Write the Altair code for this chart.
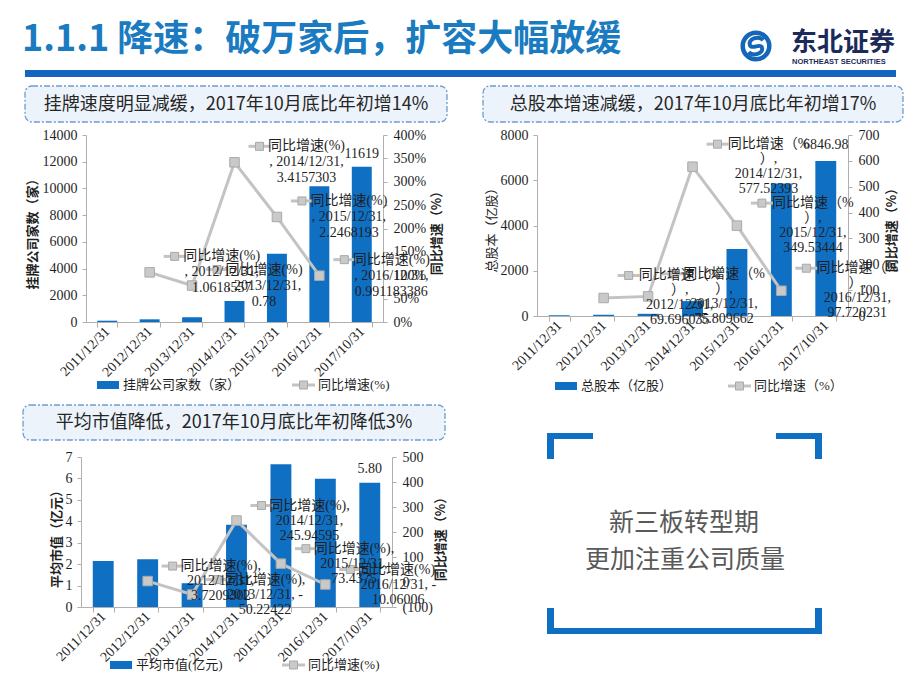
import altair as alt
import pandas as pd

# ------------------------------------------------------------------ data
dates = ["2011/12/31", "2012/12/31", "2013/12/31", "2014/12/31",
         "2015/12/31", "2016/12/31", "2017/10/31"]
growth_dates = dates[1:6]

listed_companies = [97, 200, 356, 1572, 5104, 10163, 11619]
listed_growth = [1.0618557, 0.78, 3.4157303, 2.2468193, 0.991183386]

total_shares = [32.57, 55.27, 97.17, 658.35, 2959.51, 5851.55, 6846.98]
shares_growth = [69.696035, 75.809662, 577.52393, 349.53444, 97.720231]

avg_mktcap = [2.15, 2.23, 1.11, 3.84, 6.66, 5.99, 5.80]
mktcap_growth = [3.7209302, -50.22422, 245.94595, 73.4375, -10.06006]

ticks_listed = [0, 2000, 4000, 6000, 8000, 10000, 12000, 14000]
ticks_listed_g = [0, 0.5, 1, 1.5, 2, 2.5, 3, 3.5, 4]
ticks_shares = [0, 2000, 4000, 6000, 8000]
ticks_shares_g = [0, 100, 200, 300, 400, 500, 600, 700]
ticks_cap = [0, 1, 2, 3, 4, 5, 6, 7]
ticks_cap_g = [-100, 0, 100, 200, 300, 400, 500]

page_title = "1.1.1 降速：破万家后，扩容大幅放缓"
box_titles = ["挂牌速度明显减缓，2017年10月底比年初增14%",
              "总股本增速减缓，2017年10月底比年初增17%",
              "平均市值降低，2017年10月底比年初降低3%"]
note_lines = ["新三板转型期", "更加注重公司质量"]

# ------------------------------------------------------------------ style
W, H = 904, 674


def P(v):
    return v - 8


BLUE = "#0f6fc3"
TITLE_BLUE = "#1a7bc1"
GRAY = "#c3c3c3"
SQ_FILL = "#c9c9c9"
SQ_STROKE = "#a9a9a9"
AXIS = "#b0b0b0"
TXT = "#1f1f1f"
SERIF = "Liberation Serif, DejaVu Serif, Noto Sans CJK SC, serif"
SANS = "Noto Sans CJK SC, Noto Sans, sans-serif"

one = pd.DataFrame({"k": [0]})


def box(x1, y1, x2, y2, **kw):
    return alt.Chart(one).mark_rect(**kw).encode(
        x=alt.value(P(x1)), x2=alt.value(P(x2)),
        y=alt.value(P(y1)), y2=alt.value(P(y2)))


def label(x, y, s, **kw):
    base = dict(align="center", baseline="middle", font=SERIF, fontSize=13, color=TXT)
    base.update(kw)
    return alt.Chart(one).mark_text(text=s, **base).encode(
        x=alt.value(P(x)), y=alt.value(P(y)))


def hline(x1, x2, y, **kw):
    return alt.Chart(one).mark_rule(**kw).encode(
        x=alt.value(P(x1)), x2=alt.value(P(x2)), y=alt.value(P(y)))


def sq(x, y, size=64):
    return alt.Chart(one).mark_square(size=size, fill=SQ_FILL, stroke=SQ_STROKE,
                                      strokeWidth=1, opacity=1).encode(
        x=alt.value(P(x)), y=alt.value(P(y)))


def panel(bars, growth, lines, x0, x1, yb, yt, ldom, lticks, rdom, rticks,
          rfmt=None, rexpr=None, dx=73, key_dx=25, lh=15, bar_fmt="d", bar_dy=-14):
    xs = alt.Scale(domain=dates, range=[P(x0), P(x1)],
                   paddingInner=0.53, paddingOuter=0.265)
    ysl = alt.Scale(domain=ldom, range=[P(yb), P(yt)], nice=False, zero=False)
    ysr = alt.Scale(domain=rdom, range=[P(yb), P(yt)], nice=False, zero=False)

    bdf = pd.DataFrame({"date": dates, "value": bars})
    n = len(lines[0])
    cols = {"date": growth_dates, "growth": growth}
    for i in range(n):
        cols[f"l{i}"] = [ln[i] for ln in lines]
    gdf = pd.DataFrame(cols)

    def X(axis=None):
        return alt.X("date:N", sort=dates, scale=xs, axis=axis, title=None)

    def YR(axis=None):
        return alt.Y("growth:Q", scale=ysr, axis=axis, title=None)

    xaxis = alt.Axis(orient="bottom", offset=P(yb) - H, labelAngle=315,
                     labelAlign="right", labelBaseline="middle", labelFont=SERIF,
                     labelFontSize=14, labelColor=TXT, labelPadding=2,
                     tickBand="extent", tickSize=5, tickColor=AXIS,
                     domainColor=AXIS, labelOverlap=False, grid=False)
    lax = alt.Axis(orient="left", offset=-P(x0), values=lticks, format="d",
                   labelFont=SERIF, labelFontSize=14, labelColor=TXT,
                   tickSize=4, tickColor=AXIS, domainColor=AXIS,
                   labelPadding=5, grid=False)
    rkw = dict(orient="right", offset=P(x1) - W, values=rticks,
               labelFont=SERIF, labelFontSize=14, labelColor=TXT,
               tickSize=4, tickColor=AXIS, domainColor=AXIS,
               labelPadding=6, grid=False)
    if rexpr:
        rkw["labelExpr"] = rexpr
    else:
        rkw["format"] = rfmt
    rax = alt.Axis(**rkw)

    layers = []
    layers.append(alt.Chart(bdf).mark_bar(color=BLUE).encode(
        x=X(xaxis), y=alt.Y("value:Q", scale=ysl, axis=lax, title=None),
        y2=alt.datum(0)))
    layers.append(alt.Chart(bdf).transform_filter(alt.datum.date == dates[-1])
                  .mark_text(font=SERIF, fontSize=14, color=TXT, dy=bar_dy,
                             baseline="middle", align="center")
                  .encode(x=X(), y=alt.Y("value:Q", scale=ysl, axis=None),
                          text=alt.Text("value:Q", format=bar_fmt)))
    layers.append(alt.Chart(gdf).mark_line(color=GRAY, strokeWidth=3).encode(
        x=X(), y=YR(rax)))
    layers.append(alt.Chart(gdf).mark_square(size=90, fill=SQ_FILL, stroke=SQ_STROKE,
                                             strokeWidth=1, opacity=1).encode(
        x=X(), y=YR()))
    top = -(n - 1) / 2 * lh
    layers.append(alt.Chart(gdf).mark_point(shape="M-1,0L1,0", size=484, filled=False,
                                            stroke=GRAY, strokeWidth=3, opacity=1,
                                            xOffset=key_dx, yOffset=top).encode(
        x=X(), y=YR()))
    layers.append(alt.Chart(gdf).mark_square(size=64, fill=SQ_FILL, stroke=SQ_STROKE,
                                             strokeWidth=1, opacity=1,
                                             xOffset=key_dx, yOffset=top).encode(
        x=X(), y=YR()))
    for i in range(n):
        layers.append(alt.Chart(gdf).mark_text(
            dx=dx, dy=top + i * lh, align="center", baseline="middle",
            font=SERIF, fontSize=14, color=TXT).encode(
            x=X(), y=YR(), text=f"l{i}:N"))
    return layers


lines1 = [["同比增速(%)", f", {d},", str(v)] for d, v in zip(growth_dates, listed_growth)]
lines2 = [["同比增速（%", "）,", f"{d},", str(v)] for d, v in zip(growth_dates, shares_growth)]
lines3 = [["同比增速(%),", f"{d}," + (" -" if v < 0 else ""), str(abs(v))]
          for d, v in zip(growth_dates, mktcap_growth)]

# ------------------------------------------------------------------ decorations
BOXFILL = "#ecf3fb"
BOXSTROKE = "#6f9ccc"
dash = dict(fill=BOXFILL, stroke=BOXSTROKE, strokeWidth=1.3,
            strokeDash=[6, 2, 2, 2], cornerRadius=7)

S_PATH = ("M0.55,-0.45 C0.2,-0.8 -0.65,-0.55 -0.45,-0.05 "
          "C-0.3,0.3 0.35,-0.25 0.45,0.12 C0.6,0.6 -0.25,0.8 -0.55,0.45")

decor_back = [
    label(22, 51, page_title, font=SANS, fontSize=36, fontWeight="bold",
          color=TITLE_BLUE, align="left", baseline="alphabetic"),
    box(25, 70, 896, 77, color="#1366bf"),
    alt.Chart(one).mark_point(shape="circle", size=707, filled=False, stroke="#1467b8",
                              strokeWidth=4.5, opacity=1).encode(
        x=alt.value(P(756)), y=alt.value(P(46))),
    alt.Chart(one).mark_point(shape=S_PATH, size=700, filled=False, stroke="#1467b8",
                              strokeWidth=4, opacity=1).encode(
        x=alt.value(P(756)), y=alt.value(P(46))),
    label(791, 43, "东北证券", font=SANS, fontSize=26, fontWeight="bold",
          color="#1c2a5a", align="left"),
    label(792, 62, "NORTHEAST SECURITIES", font="Liberation Sans, sans-serif",
          fontSize=7.5, fontWeight="bold", color="#1c2a5a", align="left"),
    box(25, 86, 447, 122, **dash),
    label(236, 105, box_titles[0], font=SANS, fontSize=18, color="#262626"),
    box(483, 86, 903, 122, **dash),
    label(693, 105, box_titles[1], font=SANS, fontSize=18, color="#262626"),
    box(23, 405, 445, 440, **dash),
    label(234, 423, box_titles[2], font=SANS, fontSize=18, color="#262626"),
    # bracket frame
    box(547, 433, 593, 439, color=BLUE),
    box(547, 433, 554, 459, color=BLUE),
    box(776, 433, 822, 439, color=BLUE),
    box(815, 433, 822, 459, color=BLUE),
    box(547, 608, 554, 634, color=BLUE),
    box(815, 608, 822, 634, color=BLUE),
    box(547, 628, 822, 634, color=BLUE),
    label(684, 523, note_lines[0], font=SANS, fontSize=25, color="#595959"),
    label(685, 560, note_lines[1], font=SANS, fontSize=25, color="#595959"),
]


def legend(bx, ty, bar_text, kx, series_text):
    return [
        box(bx, ty - 4, bx + 22, ty + 4, color=BLUE),
        label(bx + 26, ty, bar_text, align="left"),
        hline(kx, kx + 23, ty, color=GRAY, strokeWidth=3),
        sq(kx + 11.5, ty),
        label(kx + 26, ty, series_text, align="left"),
    ]


decor_front = (
    legend(97, 385, "挂牌公司家数（家）", 292, "同比增速(%)")
    + legend(555, 386, "总股本（亿股）", 728, "同比增速（%）")
    + legend(110, 665, "平均市值(亿元)", 282, "同比增速(%)")
    + [
        label(33, 231, "挂牌公司家数（家）", angle=270, font=SANS, fontWeight="bold"),
        label(437, 230, "同比增速（%）", angle=270, font=SANS, fontWeight="bold"),
        label(492, 227, "总股本（亿股）", angle=270, font=SANS),
        label(892, 227, "同比增速（%）", angle=270, font=SANS, fontWeight="bold"),
        label(57, 536, "平均市值（亿元）", angle=270, font=SANS, fontWeight="bold"),
        label(441, 536, "同比增速（%）", angle=270, font=SANS, fontWeight="bold"),
    ]
)

p1 = panel(listed_companies, listed_growth, lines1, 86, 383, 322, 135,
           [0, 14000], ticks_listed, [0, 4], ticks_listed_g, rfmt=".0%",
           dx=72, lh=16, bar_fmt="d", bar_dy=-13)
p2 = panel(total_shares, shares_growth, lines2, 537, 848, 316, 135,
           [0, 8000], ticks_shares, [0, 700], ticks_shares_g, rfmt="d",
           dx=76, lh=15, bar_fmt=".2f", bar_dy=-16)
p3 = panel(avg_mktcap, mktcap_growth, lines3, 81, 392, 607, 457,
           [0, 7], ticks_cap, [-100, 500], ticks_cap_g,
           rexpr="datum.value < 0 ? '(' + format(-datum.value, 'd') + ')' : format(datum.value, 'd')",
           dx=73, lh=15, bar_fmt=".2f", bar_dy=-14)

chart = (
    alt.layer(*decor_back, *p1, *p2, *p3, *decor_front)
    .resolve_scale(x="independent", y="independent")
    .properties(width=W, height=H, padding=0,
                autosize=alt.AutoSizeParams(type="none"), background="white")
    .configure_view(stroke=None)
)

chart.save("out.html", embed_options={"renderer": "svg", "actions": False})
